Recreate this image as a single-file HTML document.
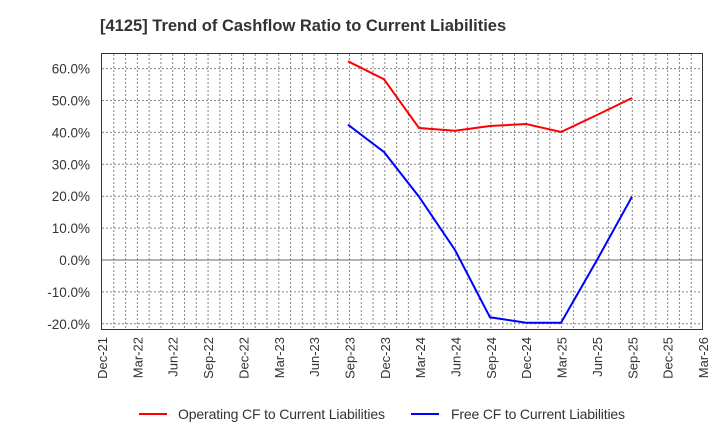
<!DOCTYPE html>
<html><head><meta charset="utf-8"><style>
body{margin:0;background:#fff;}
text{font-family:"Liberation Sans",Arial,sans-serif;fill:#333;}
</style></head><body>
<svg id="s" width="720" height="440" xmlns="http://www.w3.org/2000/svg">
<text x="100" y="31" font-size="16.5" font-weight="bold" fill="#333">[4125]  Trend of Cashflow Ratio to Current Liabilities</text>
<g id="grid" stroke="#888" stroke-width="1" stroke-dasharray="2,2"></g>
<line x1="102" y1="260" x2="702" y2="260" stroke="#666" stroke-width="1"/>
<rect x="101.5" y="53.5" width="601" height="276" fill="none" stroke="#333" stroke-width="1"/>
<g id="yl" font-size="13.5" text-anchor="end"></g>
<g id="xl" font-size="13" text-anchor="end"></g>
<polyline fill="none" stroke="#f00" stroke-width="2" points="348,61.3 384,79.3 419,128 455,130.7 490,126 526,124 561,132 597,115 632,98"/>
<polyline fill="none" stroke="#00f" stroke-width="2" points="348,124.7 384,152 419,196.7 455,250 490,317.3 526,322.7 561,322.7 597,260 632,196.7"/>
<line x1="139" y1="414" x2="167" y2="414" stroke="#f00" stroke-width="2"/>
<text x="178" y="419" font-size="14" textLength="207">Operating CF to Current Liabilities</text>
<line x1="411" y1="414" x2="439" y2="414" stroke="#00f" stroke-width="2"/>
<text x="451" y="419" font-size="14" textLength="174">Free CF to Current Liabilities</text>
</svg>
<script>
var ns="http://www.w3.org/2000/svg",g=document.getElementById('grid'),yl=document.getElementById('yl'),xl=document.getElementById('xl');
function el(p,t,a,txt){var e=document.createElementNS(ns,t);for(var k in a)e.setAttribute(k,a[k]);if(txt)e.textContent=txt;p.appendChild(e);}
for(var k=1;k<51;k++){var x=102+k*601/51;el(g,'line',{x1:x,y1:54,x2:x,y2:329});}
for(var v=-20;v<=60;v+=10){var y=260-3.19*v;if(v!=0)el(g,'line',{x1:102,y1:y,x2:702,y2:y});el(yl,'text',{x:90,y:y+5},v.toFixed(1)+'%');}
var labs=['Dec-21','Mar-22','Jun-22','Sep-22','Dec-22','Mar-23','Jun-23','Sep-23','Dec-23','Mar-24','Jun-24','Sep-24','Dec-24','Mar-25','Jun-25','Sep-25','Dec-25','Mar-26'];
for(var i=0;i<labs.length;i++){var x=102+i*601/17+5;el(xl,'text',{x:x,y:337,transform:'rotate(-90 '+x+' 337)'},labs[i]);}
</script>
</body></html>
